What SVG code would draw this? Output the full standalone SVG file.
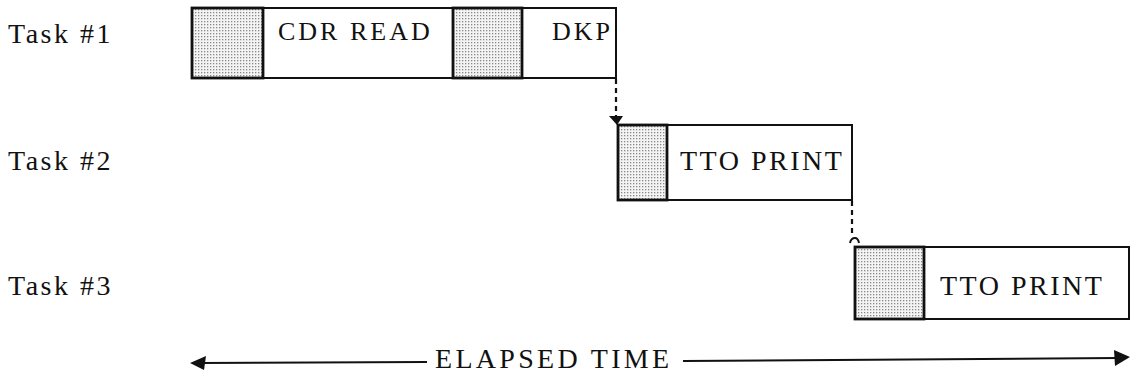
<svg xmlns="http://www.w3.org/2000/svg" width="1131" height="377" viewBox="0 0 1131 377">
<style>
.t{font-family:"Liberation Serif","Times New Roman",serif;font-size:28px;fill:#111;letter-spacing:2.5px}
.s{font-size:26px;letter-spacing:3px}
.w{letter-spacing:3.3px}
.box{fill:#fff;stroke:#111;stroke-width:2}
.sh{fill:url(#dots);stroke:#111;stroke-width:2.8}
.dot{fill:none;stroke:#111;stroke-width:2.2;stroke-dasharray:5 4}
.ln{fill:none;stroke:#111;stroke-width:2}
</style>
<defs>
<pattern id="dots" width="3" height="3" patternUnits="userSpaceOnUse">
<rect width="3" height="3" fill="#f4f4f4"/>
<rect width="1.3" height="1.3" fill="#888"/>
</pattern>
</defs>
<g id="labels">
<text class="t" x="8" y="43">Task #1</text>
<text class="t" x="8" y="170">Task #2</text>
<text class="t" x="8" y="295">Task #3</text>
</g>
<g id="task1">
<rect class="box" x="192" y="8" width="424" height="70"/>
<rect class="sh" x="192" y="8" width="71" height="70"/>
<rect class="sh" x="453" y="8" width="69" height="70"/>
<text class="t s" x="278" y="40">CDR READ</text>
<text class="t s" x="552" y="40">DKP</text>
</g>
<g id="task2">
<rect class="box" x="618" y="125" width="234" height="75"/>
<rect class="sh" x="618" y="125" width="49" height="75"/>
<text class="t" x="680" y="170">TTO PRINT</text>
</g>
<g id="task3">
<rect class="box" x="855" y="247" width="274" height="72"/>
<rect class="sh" x="855" y="247" width="69" height="72"/>
<text class="t" x="940" y="295">TTO PRINT</text>
</g>
<g id="connectors">
<line class="dot" x1="616" y1="79" x2="616" y2="116"/>
<polygon points="609,116 623,116 617,125" fill="#111"/>
<line class="dot" x1="852" y1="201" x2="852" y2="236"/>
<path class="ln" d="M850,243 Q851,238 855,238 Q858,238 859,243"/>
<line class="ln" x1="200" y1="363" x2="427" y2="362"/>
<polygon points="190,363 206,356 204,370" fill="#111"/>
<line class="ln" x1="683" y1="361" x2="1118" y2="358"/>
<polygon points="1130,357 1114,350 1115,366" fill="#111"/>
<text class="t w" x="435" y="368">ELAPSED TIME</text>
</g>
</svg>
